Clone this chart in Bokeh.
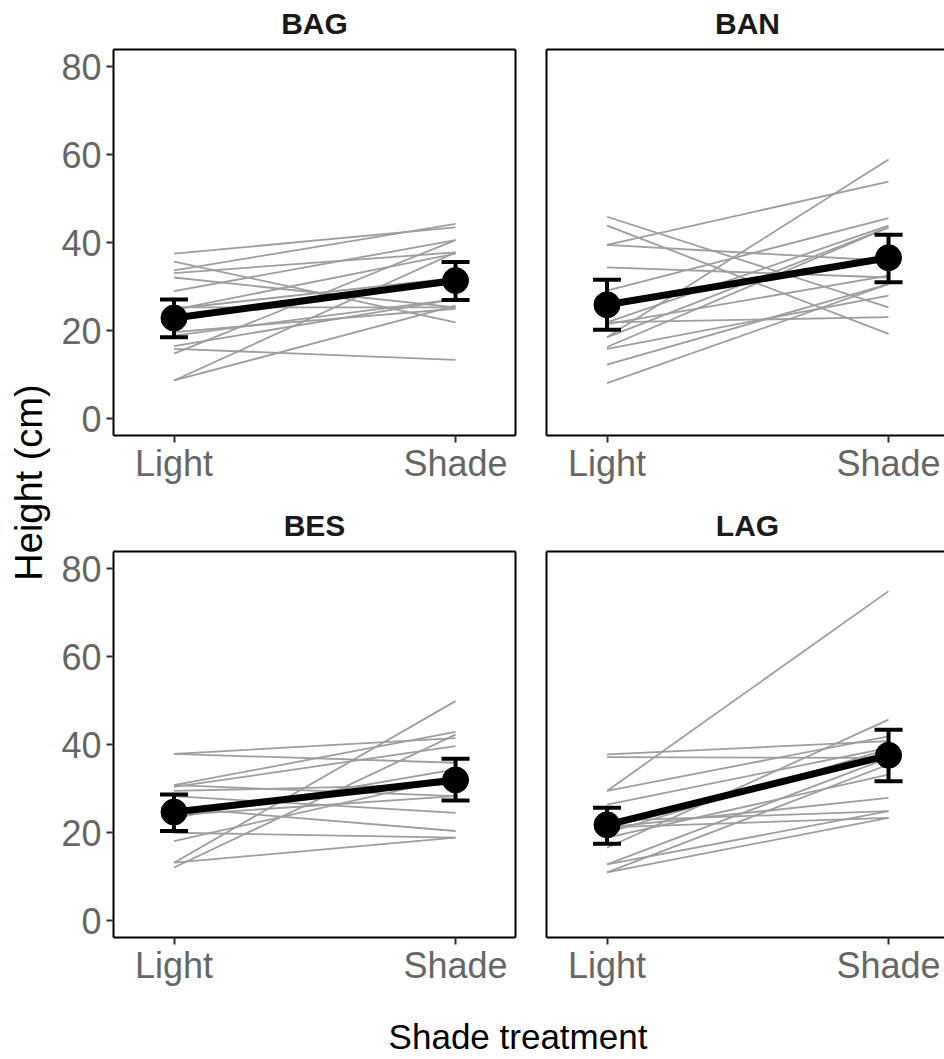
import math
from bokeh.plotting import figure
from bokeh.models import (FixedTicker, LinearAxis, Label, Whisker, TeeHead,
                          ColumnDataSource, Range1d)
from bokeh.layouts import row, column
from bokeh.embed import file_html
from bokeh.resources import INLINE

# ---------------- data ----------------
species = ["BAG", "BAN", "BES", "LAG"]
treatments = ["Light", "Shade"]
y_ticks = [0, 20, 40, 60, 80]

# individual plants: paired heights (cm) under Light and Shade
bag_light = [37.5, 33.7, 35.7, 33.1, 32.1, 29.0, 25.3, 24.8, 19.7, 18.9, 15.9, 14.8, 8.7, 8.7, 16.5, 25.0]
bag_shade = [43.5, 44.3, 21.9, 37.8, 25.3, 40.6, 25.3, 37.5, 25.0, 27.2, 13.4, 40.6, 25.7, 37.8, 27.2, 32.0]

ban_light = [39.5, 18.5, 45.9, 43.9, 39.5, 34.4, 29.1, 21.9, 21.9, 18.5, 16.3, 15.9, 12.3, 8.1, 21.5]
ban_shade = [53.9, 58.9, 25.3, 19.3, 35.9, 32.1, 45.6, 43.9, 23.1, 43.5, 43.5, 28.0, 30.6, 30.6, 32.5]

bes_light = [37.9, 37.9, 30.8, 30.4, 30.8, 28.3, 25.7, 23.4, 20.0, 18.1, 13.2, 13.2, 12.1, 24.0, 29.5]
bes_shade = [41.5, 35.9, 42.9, 39.7, 28.3, 24.5, 20.4, 34.4, 18.9, 32.5, 49.9, 18.9, 42.3, 28.3, 31.0]

lag_light = [29.5, 37.8, 37.2, 26.4, 29.5, 21.2, 22.7, 21.2, 16.6, 12.8, 11.0, 11.0, 18.9, 12.8, 20.0]
lag_shade = [74.9, 40.8, 37.0, 39.3, 41.9, 27.9, 24.9, 23.4, 45.7, 37.0, 23.4, 35.5, 33.2, 24.9, 39.0]

# species means with error-bar limits (Light, Shade)
bag_mean = [22.9, 31.4]
bag_lower = [18.5, 27.0]
bag_upper = [27.1, 35.6]

ban_mean = [25.9, 36.6]
ban_lower = [20.2, 31.0]
ban_upper = [31.6, 41.8]

bes_mean = [24.7, 32.0]
bes_lower = [20.4, 27.3]
bes_upper = [28.7, 36.8]

lag_mean = [21.8, 37.6]
lag_lower = [17.5, 31.7]
lag_upper = [25.7, 43.4]

# ---------------- style / layout ----------------
FONT = "Liberation Sans"
TICK_COLOR = "#666666"
GRAY = "#9e9e9e"

STRIP_W = 56
LEFT_W, RIGHT_W = 474, 414
TITLE_TOP_H, PANEL_TOP_H = 45, 451
TITLE_BOT_H, PANEL_BOT_H = 49, 455
XLAB_H = 59
FRAME_W, FRAME_H = 402, 386
X_START, X_END = 0.785, 2.213
Y_START, Y_END = -3.8, 83.9
BASE_SHIFT = 0.345  # em, compensation for label baseline placement

xpos = [i + 1 for i in range(len(treatments))]
tick_overrides = {float(x): t for x, t in zip(xpos, treatments)}


def border_axis():
    ax = LinearAxis(ticker=FixedTicker(ticks=[]))
    ax.axis_line_color = "black"
    ax.axis_line_width = 2
    ax.major_tick_out = 0
    ax.major_tick_in = 0
    ax.minor_tick_out = 0
    ax.minor_tick_in = 0
    ax.major_label_text_font_size = "0px"
    ax.major_label_standoff = 0
    return ax


def style_axis(ax, show, standoff=5):
    ax.axis_line_color = "black"
    ax.axis_line_width = 2
    ax.minor_tick_line_color = None
    if show:
        ax.major_tick_out = 7
        ax.major_tick_in = 0
        ax.major_tick_line_color = "#333333"
        ax.major_tick_line_width = 2
        ax.major_label_text_font = FONT
        ax.major_label_text_font_size = "36px"
        ax.major_label_text_color = TICK_COLOR
        ax.major_label_standoff = standoff
    else:
        ax.major_tick_out = 0
        ax.major_tick_in = 0
        ax.major_label_text_font_size = "0px"
        ax.major_label_standoff = 0


def panel(light, shade, mean, lower, upper, is_left, is_top):
    width = LEFT_W if is_left else RIGHT_W
    height = PANEL_TOP_H if is_top else PANEL_BOT_H
    mb_left = 57 if is_left else 16
    mb_right = width - mb_left - FRAME_W if is_left else 0
    mb_top = 4 if is_top else 6
    mb_bottom = height - mb_top - FRAME_H
    frame_w = width - mb_left - mb_right
    x_end = X_START + (X_END - X_START) * frame_w / FRAME_W

    p = figure(width=width, height=height,
               x_range=Range1d(X_START, x_end), y_range=Range1d(Y_START, Y_END),
               output_backend="svg", toolbar_location=None,
               min_border_left=mb_left, min_border_right=mb_right,
               min_border_top=mb_top, min_border_bottom=mb_bottom)
    p.outline_line_color = None
    p.grid.visible = False
    p.background_fill_color = "white"
    p.border_fill_color = "white"

    p.xaxis.ticker = FixedTicker(ticks=xpos)
    p.xaxis.major_label_overrides = tick_overrides
    style_axis(p.xaxis[0], True, standoff=0)
    if is_left:
        p.yaxis.ticker = FixedTicker(ticks=y_ticks)
        style_axis(p.yaxis[0], True, standoff=5)
    else:
        p.yaxis.ticker = FixedTicker(ticks=[])
        style_axis(p.yaxis[0], False)

    p.add_layout(border_axis(), "above")
    if is_left:
        p.add_layout(border_axis(), "right")

    # individual plants
    xs = [xpos for _ in light]
    ys = [[a, b] for a, b in zip(light, shade)]
    p.multi_line(xs=xs, ys=ys, line_color=GRAY, line_width=1.8)

    # means with error bars
    src = ColumnDataSource(dict(x=xpos, mean=mean, lower=lower, upper=upper))
    p.line("x", "mean", source=src, line_color="black", line_width=7)
    w = Whisker(source=src, base="x", lower="lower", upper="upper",
                line_color="black", line_width=4, level="overlay",
                upper_head=TeeHead(size=28, line_width=4, line_color="black"),
                lower_head=TeeHead(size=28, line_width=4, line_color="black"))
    p.add_layout(w)
    p.scatter("x", "mean", source=src, size=26, fill_color="black",
              line_color="black")
    return p


def text_strip(width, height):
    f = figure(width=width, height=height, x_range=Range1d(0, width),
               y_range=Range1d(0, height), output_backend="svg",
               toolbar_location=None, x_axis_location=None,
               y_axis_location=None, min_border=0)
    f.outline_line_color = None
    f.grid.visible = False
    return f


def title_strip(names, height, baseline_from_bottom):
    f = text_strip(LEFT_W + RIGHT_W, height)
    size = 30
    centers = [57 + FRAME_W / 2, LEFT_W + 16 + FRAME_W / 2]
    for name, cx in zip(names, centers):
        f.add_layout(Label(x=cx, y=baseline_from_bottom + BASE_SHIFT * size,
                           text=name, text_font=FONT, text_font_size=f"{size}px",
                           text_font_style="bold", text_color="#1a1a1a",
                           text_align="center", text_baseline="alphabetic"))
    return f


p_bag = panel(bag_light, bag_shade, bag_mean, bag_lower, bag_upper, True, True)
p_ban = panel(ban_light, ban_shade, ban_mean, ban_lower, ban_upper, False, True)
p_bes = panel(bes_light, bes_shade, bes_mean, bes_lower, bes_upper, True, False)
p_lag = panel(lag_light, lag_shade, lag_mean, lag_lower, lag_upper, False, False)

t_top = title_strip(species[:2], TITLE_TOP_H, 11.7)
t_bot = title_strip(species[2:], TITLE_BOT_H, 10.0)

total_h = TITLE_TOP_H + PANEL_TOP_H + TITLE_BOT_H + PANEL_BOT_H + XLAB_H
ylab = text_strip(STRIP_W, total_h)
ysize = 38
ylab.add_layout(Label(x=41.7 - BASE_SHIFT * ysize, y=total_h - 482.0,
                      text="Height (cm)", angle=math.pi / 2,
                      text_font=FONT, text_font_size=f"{ysize}px", text_color="black",
                      text_align="center", text_baseline="alphabetic"))

xlab = text_strip(LEFT_W + RIGHT_W, XLAB_H)
xsize = 35
xlab.add_layout(Label(x=517.5 - STRIP_W, y=10.7 + BASE_SHIFT * xsize,
                      text="Shade treatment",
                      text_font=FONT, text_font_size=f"{xsize}px", text_color="black",
                      text_align="center", text_baseline="alphabetic"))

layout = row(ylab, column(t_top, row(p_bag, p_ban), t_bot, row(p_bes, p_lag), xlab))

open("out.html", "w").write(file_html(layout, INLINE))
